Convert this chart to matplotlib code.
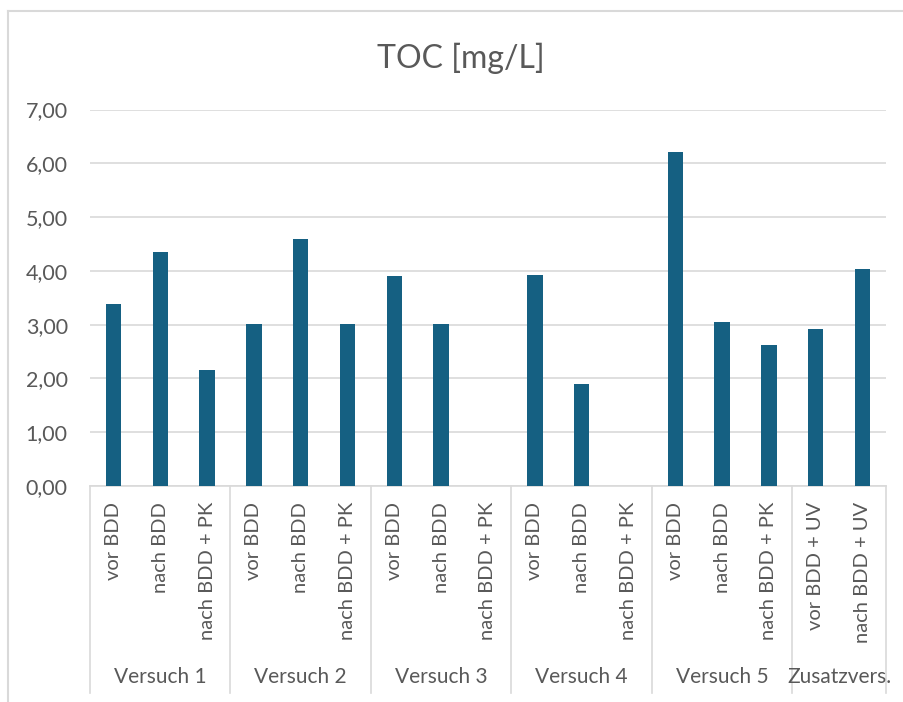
import matplotlib

matplotlib.use("Agg")
import matplotlib.pyplot as plt
import numpy as np
from matplotlib.lines import Line2D
from matplotlib.ticker import FuncFormatter

plt.rcParams["font.family"] = ["Lato", "DejaVu Sans"]

groups = ["Versuch 1", "Versuch 2", "Versuch 3", "Versuch 4", "Versuch 5", "Zusatzvers."]
sub_labels = [
    ["vor BDD", "nach BDD", "nach BDD + PK"],
    ["vor BDD", "nach BDD", "nach BDD + PK"],
    ["vor BDD", "nach BDD", "nach BDD + PK"],
    ["vor BDD", "nach BDD", "nach BDD + PK"],
    ["vor BDD", "nach BDD", "nach BDD + PK"],
    ["vor BDD + UV", "nach BDD + UV"],
]
toc = [
    [3.38, 4.35, 2.16],
    [3.02, 4.59, 3.02],
    [3.90, 3.02, None],
    [3.92, 1.90, None],
    [6.21, 3.04, 2.63],
    [2.92, 4.04],
]
yticks = [0, 1, 2, 3, 4, 5, 6, 7]

BAR = "#156082"
GRID = "#d9d9d9"
TXT = "#595959"

W, H = 904, 702
fig = plt.figure(figsize=(W / 100, H / 100), dpi=100)
ax_l, ax_r, ax_b, ax_t = 90, 886, 486, 109.5
ax = fig.add_axes([ax_l / W, 1 - ax_b / H, (ax_r - ax_l) / W, (ax_b - ax_t) / H])

labels = [s for g in sub_labels for s in g]
vals = [np.nan if v is None else v for g in toc for v in g]
x = np.arange(len(labels))
ax.bar(x, vals, width=0.33, color=BAR, zorder=3)

ax.set_xlim(-0.5, len(labels) - 0.5)
ax.set_ylim(0, 7)
ax.set_yticks(yticks)
ax.yaxis.set_major_formatter(FuncFormatter(lambda v, p: f"{v:.2f}".replace(".", ",")))
ax.tick_params(axis="y", length=0, pad=16, labelsize=15.5, labelcolor=TXT)
ax.set_xticks([])
ax.grid(axis="y", color=GRID, lw=1.2, zorder=0)
for s in ["top", "right", "left"]:
    ax.spines[s].set_visible(False)
ax.spines["bottom"].set_color(GRID)
ax.spines["bottom"].set_linewidth(1.2)

# mehrstufige Kategorieachse
axh = ax_b - ax_t
trans = ax.get_xaxis_transform()
for i, lab in enumerate(labels):
    ax.text(i, -16 / axh, lab, transform=trans, rotation=90, ha="center", va="top",
            fontsize=14.5, color=TXT)

start = 0
bounds = [-0.5]
for g, subs in zip(groups, sub_labels):
    n = len(subs)
    ax.text(start + (n - 1) / 2, -(677 - ax_b) / axh, g, transform=trans, ha="center",
            va="center", fontsize=15, color=TXT)
    start += n
    bounds.append(start - 0.5)
for b in bounds:
    ax.plot([b, b], [0, -(693 - ax_b) / axh], transform=trans, color=GRID, lw=1.2,
            clip_on=False)

fig.text(461 / W, 1 - 58 / H, "TOC [mg/L]", ha="center", va="center", fontsize=23, color=TXT)

# Rahmen des Diagrammbereichs
fig.add_artist(Line2D([8 / W, 1], [1 - 11 / H, 1 - 11 / H], color=GRID, lw=1.5))
fig.add_artist(Line2D([8 / W, 8 / W], [0, 1 - 11 / H], color=GRID, lw=1.5))

fig.savefig("out.png", dpi=100)
